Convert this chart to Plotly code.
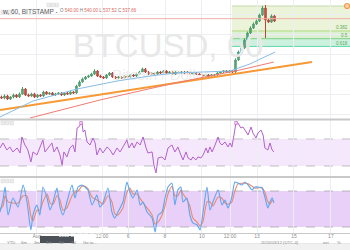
import plotly.graph_objects as go

# ---------------- data ----------------
OPEN = [498.5, 498.0, 499.0, 497.5, 498.5, 499.5, 498.5, 500.0, 502.5, 499.5,
        499.0, 500.0, 498.5, 499.5, 499.0, 501.0, 500.0, 500.5, 499.5, 500.0,
        500.5, 499.5, 500.5, 500.0, 501.0, 500.5, 504.0, 506.0, 507.5, 508.5,
        509.0, 510.0, 511.5, 509.0, 508.5, 508.0, 509.5, 510.5, 508.5, 508.0,
        508.5, 508.0, 509.0, 508.5, 509.5, 509.0, 510.0, 511.0, 512.5, 511.0,
        510.0, 510.5, 510.0, 511.0, 510.5, 511.5, 510.5, 511.0, 510.0, 511.0,
        510.5, 511.0, 510.5, 511.0, 510.0, 510.5, 510.0, 509.5, 509.0, 509.5,
        509.0, 509.5, 509.5, 510.5, 511.0, 511.5, 511.0, 511.5, 511.0, 517.0,
        521.0, 523.0, 527.0, 530.5, 533.0, 535.0, 536.5, 539.5, 543.0, 537.0,
        536.0, 539.0]
CLOSE = [498.0, 499.0, 497.5, 498.5, 499.5, 498.5, 500.0, 502.5, 499.5, 499.0,
         500.0, 498.5, 499.5, 499.0, 501.0, 500.0, 500.5, 499.5, 500.0, 500.5,
         499.5, 500.5, 500.0, 501.0, 500.5, 504.0, 506.0, 507.5, 508.5, 509.0,
         510.0, 511.5, 509.0, 508.5, 508.0, 509.5, 510.5, 508.5, 508.0, 508.5,
         508.0, 509.0, 508.5, 509.5, 509.0, 510.0, 511.0, 512.5, 511.0, 510.0,
         510.5, 510.0, 511.0, 510.5, 511.5, 510.5, 511.0, 510.0, 511.0, 510.5,
         511.0, 510.5, 511.0, 510.0, 510.5, 510.0, 509.5, 509.0, 509.5, 509.0,
         509.5, 509.5, 510.5, 511.0, 511.5, 511.0, 511.5, 511.0, 517.0, 521.0,
         523.0, 527.0, 530.5, 533.0, 535.0, 536.5, 539.5, 543.0, 537.0, 536.0,
         539.0, 536.5]
HIGH = [499.2, 499.8, 499.6, 499.0, 500.2, 500.0, 500.8, 503.5, 503.0, 500.2,
        500.6, 500.6, 500.1, 500.0, 501.6, 501.5, 501.0, 501.0, 500.6, 501.0,
        501.0, 501.0, 501.0, 501.6, 501.5, 504.6, 506.8, 508.2, 509.0, 509.6,
        510.6, 512.4, 512.0, 509.6, 509.0, 510.0, 511.0, 511.0, 509.0, 509.0,
        509.0, 509.6, 509.5, 510.0, 510.0, 510.6, 511.6, 513.2, 513.0, 511.5,
        511.0, 511.0, 511.5, 511.5, 512.0, 512.0, 511.5, 511.5, 511.5, 511.5,
        511.5, 511.5, 511.5, 511.5, 511.0, 511.0, 510.5, 510.0, 510.0, 510.0,
        510.0, 510.0, 511.0, 511.5, 512.0, 512.0, 512.0, 512.0, 517.8, 521.8,
        524.0, 527.8, 531.2, 533.8, 535.8, 537.2, 540.2, 544.0, 544.5, 537.6,
        539.8, 539.6]
LOW = [497.6, 497.4, 497.0, 497.0, 497.8, 498.0, 498.0, 499.6, 499.0, 498.6,
       498.6, 498.0, 498.0, 498.6, 498.6, 499.6, 499.6, 499.0, 499.0, 499.6,
       499.0, 499.0, 499.6, 499.6, 500.0, 500.0, 503.6, 505.6, 507.0, 508.0,
       508.6, 509.5, 508.5, 508.0, 507.5, 507.6, 509.0, 508.0, 507.5, 507.6,
       507.6, 507.6, 508.0, 508.0, 508.5, 508.5, 509.5, 510.5, 510.5, 509.5,
       509.6, 509.6, 509.6, 510.0, 510.0, 510.0, 510.0, 509.6, 509.6, 510.0,
       510.0, 510.0, 510.0, 509.6, 509.6, 509.6, 509.0, 508.5, 508.6, 508.5,
       508.6, 509.0, 509.0, 510.0, 510.5, 510.5, 510.5, 510.5, 510.5, 516.5,
       520.5, 522.5, 526.5, 530.0, 532.5, 534.5, 536.0, 539.0, 528.0, 535.5,
       535.5, 536.0]

MA_BLUE_T = [-0.5, 10.5, 25.2, 38.5, 49.5, 57.8, 76.2, 82.8, 91.2]
MA_BLUE_V = [488.5, 496.5, 502.5, 506.5, 509.0, 510.5, 511.5, 515.0, 521.0]
MA_RED_T = [9.5, 32.8, 57.8, 79.5, 90.8]
MA_RED_V = [488.0, 497.0, 505.5, 512.0, 516.0]
TREND_T = [-0.5, 103.5]
TREND_V = [492.0, 516.0]

LAST_PRICE = 537.66
FIB_HIGH = 544.0
FIB_LOW = 511.3
FIB_LEVELS = [0.0, 0.382, 0.5, 0.618]
FIB_START_T = 76.8

RSI_T = [-0.5, 0.5, 1.8, 2.8, 3.8, 5.2, 6.2, 6.8, 7.8, 8.8, 9.8, 10.5, 11.8, 12.8, 13.8,
         14.5, 15.5, 16.8, 17.5, 18.5, 19.5, 20.2, 20.8, 21.8, 22.8, 23.8, 24.5, 25.2,
         25.8, 26.8, 27.2, 27.8, 28.5, 29.5, 30.5, 31.2, 31.8, 32.8, 33.8, 35.2, 36.2,
         37.2, 38.5, 39.5, 40.5, 41.8, 42.5, 43.5, 44.2, 45.2, 46.2, 47.2, 48.2, 48.8,
         50.2, 50.8, 51.5, 52.2, 53.5, 54.5, 55.5, 56.8, 57.8,
         58.8, 59.8, 60.5, 61.5, 62.2, 63.2, 63.8, 64.8, 65.5, 66.5, 67.2, 68.2, 68.8,
         69.5, 70.2, 71.2, 72.2, 72.8, 73.5, 74.5, 75.5, 76.2, 76.8, 77.5, 78.2, 78.8,
         79.8, 80.5, 81.5, 82.2, 83.2, 83.8, 84.8, 85.5, 86.5, 87.2, 87.8, 88.8, 89.5,
         90.2, 90.8]
RSI_V = [56.7, 64.1, 53.7, 58.2, 50.8, 56.7, 49.3, 73.0, 61.1, 53.7, 36.0, 50.8, 46.3,
         58.2, 68.5, 50.8, 56.7, 64.1, 50.8, 58.2, 46.3, 31.5, 50.8, 43.4, 56.7, 61.1,
         50.8, 86.3, 87.8, 95.2, 80.4, 83.3, 65.6, 61.1, 71.5, 64.1, 46.3, 56.7, 49.3,
         58.2, 53.7, 46.3, 56.7, 50.8, 58.2, 68.5, 56.7, 64.1, 56.7, 65.6, 61.1, 73.0,
         56.7, 49.3, 50.8, 31.5, 19.7, 41.9, 43.4, 38.9, 56.7, 61.1, 50.8,
         58.2, 46.3, 38.9, 50.8, 41.9, 38.9, 43.4, 38.9, 43.4, 41.9, 46.3, 56.7, 49.3,
         58.2, 50.8, 61.1, 73.0, 64.1, 61.1, 65.6, 58.2, 64.1, 58.2, 75.9, 95.2, 93.7,
         86.3, 87.8, 80.4, 75.9, 87.8, 78.9, 71.5, 78.9, 83.3, 75.9, 56.7, 53.7, 64.1,
         53.7, 50.8]

STO_T = [-0.5, 0.5, 1.2, 2.2, 3.8, 5.5, 7.2, 8.5, 9.8, 10.5, 11.8, 12.8, 13.8, 15.2,
         16.2, 17.2, 18.5, 19.5, 20.5, 21.8, 23.5, 24.5, 25.5, 26.8, 27.8, 28.8, 30.2,
         31.8, 32.8, 33.8, 35.5, 36.8, 37.8, 38.8, 40.5, 41.8, 42.8, 43.8, 45.2, 46.2,
         47.2, 48.5, 50.2, 51.2, 52.2, 53.5, 54.5, 55.5, 56.8, 57.8,
         58.8, 59.8, 60.5, 61.8, 62.8, 63.8, 65.2, 66.2, 67.2, 68.5, 69.5, 70.5, 72.2,
         73.5, 74.5, 75.5, 76.8, 77.8, 78.8, 80.2, 81.2, 82.2, 83.5, 84.5, 85.5, 86.8,
         87.8, 88.8, 89.5, 90.2, 90.8]
STO_K = [45.0, 65.0, 86.7, 40.0, 68.3, 53.3, 90.0, 61.7, 15.0, 40.0, 56.7, 40.0, 86.7,
         68.3, 48.3, 61.7, 85.0, 53.3, 40.0, 61.7, 90.0, 68.3, 86.7, 90.0, 86.7, 81.7,
         56.7, 73.3, 53.3, 60.0, 85.0, 45.0, 35.0, 45.0, 61.7, 95.0, 78.3, 68.3, 81.7,
         56.7, 61.7, 45.0, 35.0, 11.7, 40.0, 45.0, 68.3, 86.7, 93.3, 56.7,
         81.7, 86.7, 61.7, 68.3, 40.0, 26.7, 23.3, 15.0, 45.0, 86.7, 48.3, 61.7, 81.7,
         56.7, 65.0, 51.7, 70.0, 95.0, 93.3, 90.0, 95.0, 90.0, 81.7, 86.7, 86.7, 85.0,
         70.0, 51.7, 61.7, 68.3, 60.0]
STO_D = [50, 55, 72, 62, 60, 60, 72, 72, 38, 30, 48, 48, 62, 75, 60, 58, 72, 65, 48, 52,
         72, 78, 80, 88, 88, 84, 70, 65, 62, 58, 72, 62, 42, 40, 52, 78, 85, 75, 75, 68,
         60, 52, 40, 25, 28, 40, 55, 75, 88, 72,
         72, 82, 75, 66, 55, 35, 28, 22, 30, 62, 62, 55, 70, 68, 60, 58, 62, 80, 92, 93,
         93, 92, 88, 85, 85, 86, 78, 62, 58, 64, 63]

TICK_T = [-0.2, 11.8, 33.5, 42.2, 54.5, 66.8, 76.2, 85.2, 97.5, 109.8]
TICK_LABELS = ["0", "Aug", "12:00", "6", "8", "10", "12:00", "13", "15", "17"]

# ---------------- layout helpers ----------------
W, H = 350, 250
FONT = "Liberation Sans, Arial, sans-serif"


def py(p):
    return 1 - p / H


def px(p):
    return p / W


X_RANGE = [-0.5, 116.17]

fig = go.Figure()

# watermark (drawn first so it sits under the candles)
fig.add_trace(go.Scatter(x=[55.5], y=[522.5], mode="text", text=["BTCUSD, 60"],
                         textfont=dict(size=33, color="#e8e8e8", family=FONT),
                         xaxis="x", yaxis="y", hoverinfo="skip", showlegend=False))
fig.add_trace(go.Scatter(x=[53.0], y=[509.0], mode="text", text=["Bitcoin / Dollar"],
                         textfont=dict(size=15, color="#eeeeee", family=FONT),
                         xaxis="x", yaxis="y", hoverinfo="skip", showlegend=False))

# moving averages and trend line
fig.add_trace(go.Scatter(x=TREND_T, y=TREND_V, mode="lines",
                         line=dict(color="#f59a35", width=2.2),
                         xaxis="x", yaxis="y", hoverinfo="skip", showlegend=False))
fig.add_trace(go.Scatter(x=MA_RED_T, y=MA_RED_V, mode="lines",
                         line=dict(color="#f27b72", width=1),
                         xaxis="x", yaxis="y", hoverinfo="skip", showlegend=False))
fig.add_trace(go.Scatter(x=MA_BLUE_T, y=MA_BLUE_V, mode="lines",
                         line=dict(color="#86bde6", width=1),
                         xaxis="x", yaxis="y", hoverinfo="skip", showlegend=False))

# candles
fig.add_trace(go.Candlestick(
    x=list(range(len(CLOSE))), open=OPEN, high=HIGH, low=LOW, close=CLOSE,
    increasing=dict(line=dict(color="#4f9a6c", width=1), fillcolor="#6ba583"),
    decreasing=dict(line=dict(color="#b8463a", width=1), fillcolor="#d75442"),
    whiskerwidth=0, xaxis="x", yaxis="y", hoverinfo="skip", showlegend=False))

# fib handle
fig.add_trace(go.Scatter(x=[115.2], y=[FIB_HIGH], mode="markers",
                         marker=dict(size=5, color="#fbd3a8", line=dict(color="#f29a4a", width=1.2)),
                         xaxis="x", yaxis="y", hoverinfo="skip", showlegend=False))

# RSI
fig.add_trace(go.Scatter(x=RSI_T, y=RSI_V, mode="lines",
                         line=dict(color="#b262cc", width=1),
                         xaxis="x", yaxis="y2", hoverinfo="skip", showlegend=False))
# Stochastic
fig.add_trace(go.Scatter(x=STO_T, y=STO_D, mode="lines",
                         line=dict(color="#f0886a", width=1.1, shape="spline", smoothing=0.6),
                         xaxis="x", yaxis="y3", hoverinfo="skip", showlegend=False))
fig.add_trace(go.Scatter(x=STO_T, y=STO_K, mode="lines",
                         line=dict(color="#5aa6f2", width=1.1, shape="spline", smoothing=0.6),
                         xaxis="x", yaxis="y3", hoverinfo="skip", showlegend=False))

shapes = []
annotations = []

# fib retracement zones
fib_prices = [FIB_HIGH - lv * (FIB_HIGH - FIB_LOW) for lv in FIB_LEVELS]
zone_fill = ["#ebf4d8", "#dcf1d3", "#cdf1df"]
line_cols = ["#c5d9a8", "#b3d77d", "#7ccf80", "#5fd7a8"]
for i in range(3):
    shapes.append(dict(type="rect", xref="x", yref="y", x0=FIB_START_T, x1=X_RANGE[1],
                       y0=fib_prices[i + 1], y1=fib_prices[i], fillcolor=zone_fill[i],
                       line=dict(width=0), layer="below"))
for i, p in enumerate(fib_prices):
    shapes.append(dict(type="line", xref="x", yref="y", x0=FIB_START_T, x1=X_RANGE[1],
                       y0=p, y1=p, line=dict(color=line_cols[i], width=1), layer="below"))
for lv, p in zip(FIB_LEVELS[1:], fib_prices[1:]):
    annotations.append(dict(x=1, y=p, xref="paper", yref="y", text=f"{lv}",
                            showarrow=False, xanchor="right", yanchor="bottom",
                            xshift=-0.5, yshift=-1.5,
                            font=dict(size=4.5, color="#62a860", family=FONT)))

# last price line
shapes.append(dict(type="line", xref="x", yref="y", x0=X_RANGE[0], x1=X_RANGE[1],
                   y0=LAST_PRICE, y1=LAST_PRICE, line=dict(color="#f3b0a8", width=1)))

# RSI band
shapes.append(dict(type="rect", xref="x", yref="y2", x0=X_RANGE[0], x1=X_RANGE[1],
                   y0=30, y1=70, fillcolor="#f5e7fc", line=dict(width=0), layer="below"))
for lv in (30, 70):
    shapes.append(dict(type="line", xref="x", yref="y2", x0=X_RANGE[0], x1=X_RANGE[1],
                       y0=lv, y1=lv, line=dict(color="#b0b0b0", width=0.8, dash="dash"),
                       layer="below"))
# Stochastic band
shapes.append(dict(type="rect", xref="x", yref="y3", x0=X_RANGE[0], x1=X_RANGE[1],
                   y0=20, y1=80, fillcolor="#e8d0f8", line=dict(width=0), layer="below"))
for lv in (20, 80):
    shapes.append(dict(type="line", xref="x", yref="y3", x0=X_RANGE[0], x1=X_RANGE[1],
                       y0=lv, y1=lv, line=dict(color="#a8a8a8", width=0.8, dash="dash"),
                       layer="below"))

# pane separators
for p, w in ((119.5, 2), (177, 2), (233.5, 1)):
    shapes.append(dict(type="line", xref="paper", yref="paper", x0=0, x1=1,
                       y0=py(p), y1=py(p), line=dict(color="#c8c8c8", width=w)))

# small pane header boxes
for (bx, by) in ((1, 12), (7, 12), (1, 123), (5.5, 123), (10, 123), (1, 181), (5.5, 181), (10, 181),
                 (47, 5), (51, 5), (55, 5)):
    shapes.append(dict(type="rect", xref="paper", yref="paper",
                       x0=px(bx), x1=px(bx + 3.5), y0=py(by + 1.8), y1=py(by - 1.8),
                       fillcolor="#ececec", line=dict(color="#d6d6d6", width=0.5)))
# event markers
for ex in (81, 236):
    shapes.append(dict(type="rect", xref="paper", yref="paper",
                       x0=px(ex - 1.3), x1=px(ex + 1.3), y0=py(124.5), y1=py(121.5),
                       fillcolor="#f6d8f4", line=dict(color="#c455c4", width=0.6)))

# bottom toolbar
shapes.append(dict(type="rect", xref="paper", yref="paper", x0=0, x1=1, y0=0, y1=py(243.5),
                   fillcolor="#f1f1f1", line=dict(width=0)))
shapes.append(dict(type="line", xref="paper", yref="paper", x0=0, x1=1, y0=py(243.5), y1=py(243.5),
                   line=dict(color="#dcdcdc", width=0.6)))
for t, x in (("YTD", 5), ("6m", 19), ("3m", 32), ("1m", 44), ("5d", 57), ("1d", 69),
             ("Go to...", 81), ("2015/03/12 (UTC-4)", 301), ("ext", 331), ("%", 343)):
    annotations.append(dict(x=px(x), y=py(247.3), xref="paper", yref="paper", text=t,
                            showarrow=False, font=dict(size=4.2, color="#8a8a8a", family=FONT)))

# crosshair date label
shapes.append(dict(type="rect", xref="paper", yref="paper", x0=px(40), x1=px(74),
                   y0=py(243), y1=py(236), fillcolor="#4b5059", line=dict(width=0)))
annotations.append(dict(x=px(57), y=py(239.5), xref="paper", yref="paper",
                        text="2015-08-07 02:00:00", showarrow=False,
                        font=dict(size=4.5, color="#ffffff", family=FONT)))

# header texts
annotations.append(dict(x=0, y=py(5.5), xref="paper", yref="paper", xanchor="left",
                        text="w, 60, BITSTAMP -", showarrow=False,
                        font=dict(size=6.5, color="#555555", family=FONT)))
annotations.append(dict(x=px(58), y=py(5.5), xref="paper", yref="paper", xanchor="left",
                        text="O <span style='color:#e0675c'>540.00</span> H "
                             "<span style='color:#e0675c'>540.00</span> L "
                             "<span style='color:#e0675c'>537.52</span> C "
                             "<span style='color:#e0675c'>537.66</span>",
                        showarrow=False, font=dict(size=4.5, color="#777777", family=FONT)))

grid = "#eceef2"
fig.update_layout(
    width=W, height=H, margin=dict(l=0, r=0, t=0, b=0),
    paper_bgcolor="white", plot_bgcolor="white", showlegend=False,
    shapes=shapes, annotations=annotations,
    xaxis=dict(domain=[0, 1], range=X_RANGE, anchor="y3", tickvals=TICK_T,
               ticktext=TICK_LABELS, showgrid=True, gridcolor=grid, gridwidth=1,
               zeroline=False, showline=False, ticks="", ticklen=0,
               ticklabelstandoff=-1,
               tickfont=dict(size=5, color="#8c8c8c", family=FONT),
               rangeslider=dict(visible=False), fixedrange=True),
    yaxis=dict(domain=[py(119), 1], range=[487.5, 547], showticklabels=False,
               showgrid=True, gridcolor=grid, dtick=10, zeroline=False),
    yaxis2=dict(domain=[py(176), py(120)], range=[15.2, 98.1], showticklabels=False,
                showgrid=False, zeroline=False, anchor="x"),
    yaxis3=dict(domain=[py(233), py(178)], range=[10, 101.7], showticklabels=False,
                showgrid=False, zeroline=False, anchor="x"),
)

fig.write_html("out.html")
